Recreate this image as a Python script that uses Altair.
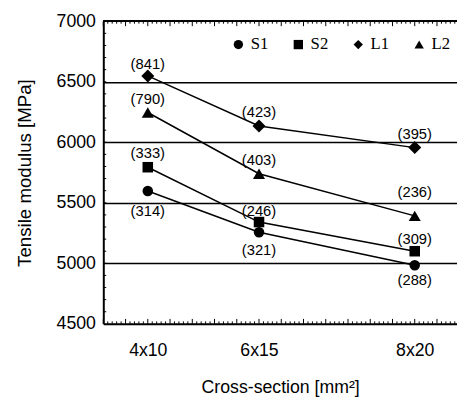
import altair as alt
import pandas as pd

# ---- data ----
sections = ["4x10", "6x15", "8x20"]
series = ["S1", "S2", "L1", "L2"]
shapes = ["circle", "square", "diamond", "triangle-up"]
values = {
    "S1": [5597, 5257, 4984],
    "S2": [5794, 5341, 5100],
    "L1": [6548, 6135, 5956],
    "L2": [6246, 5740, 5392],
}
counts = {
    "S1": ["(314)", "(321)", "(288)"],
    "S2": ["(333)", "(246)", "(309)"],
    "L1": ["(841)", "(423)", "(395)"],
    "L2": ["(790)", "(403)", "(236)"],
}
# label placement (pixels above (-) / below (+) the marker)
label_dy = {
    "S1": [20, 18, 15],
    "S2": [-14, -11, -12],
    "L1": [-12, -14, -14],
    "L2": [-14, -14, -24],
}
y_ticks = [4500, 5000, 5500, 6000, 6500, 7000]
x_major_ticks = list(range(20, 180, 10))
x_minor_ticks = [v for v in range(20, 180, 2) if v % 10]
y_minor_ticks = list(range(4600, 7000, 100))

def area(sec):
    a, b = sec.split("x")
    return int(a) * int(b)

rows = []
for s in series:
    for i, sec in enumerate(sections):
        rows.append({"series": s, "section": sec, "area": area(sec),
                     "value": values[s][i], "label": counts[s][i],
                     "dy": label_dy[s][i]})
df = pd.DataFrame(rows)

W, H = 360, 308
YMIN, YMAX = 4500, 7000
xs = alt.Scale(domain=[20, 179], nice=False, zero=False)
ys = alt.Scale(domain=[YMIN, YMAX], nice=False, zero=False)
SANS = "Liberation Sans"

label_expr = " : ".join(
    f"datum.value == {area(s)} ? '{s}'" for s in sections) + " : ''"

x_axis = alt.Axis(
    values=[area(s) for s in sections], labelExpr=label_expr,
    title="Cross-section [mm²]", ticks=False, tickSize=0, grid=False,
    domainColor="black", domainWidth=2, labelFont=SANS, labelFontSize=18,
    labelColor="black", labelPadding=18, titleFont=SANS, titleFontSize=18,
    titleFontWeight="normal", titleColor="black", titlePadding=20)
y_axis = alt.Axis(
    values=y_ticks, format="d", title="Tensile modulus [MPa]", ticks=False, tickSize=0,
    grid=True, gridColor="black", gridWidth=1.5,
    gridOpacity={"condition": {"test": "datum.value <= 4500 || datum.value >= 7000", "value": 0}, "value": 1},
    domainColor="black", domainWidth=2, labelFont=SANS, labelFontSize=18,
    labelColor="black", labelPadding=8, titleFont=SANS, titleFontSize=19,
    titleFontWeight="normal", titleColor="black", titlePadding=22)

base = alt.Chart(df)

lines = base.mark_line(color="black", strokeWidth=1.5).encode(
    x=alt.X("area:Q", scale=xs, axis=x_axis),
    y=alt.Y("value:Q", scale=ys, axis=y_axis),
    detail="series:N",
)

points = base.mark_point(filled=True, color="black", opacity=1).encode(
    x=alt.X("area:Q", scale=xs, axis=x_axis),
    y=alt.Y("value:Q", scale=ys, axis=y_axis),
    shape=alt.Shape("series:N", scale=alt.Scale(domain=series, range=shapes),
                    legend=alt.Legend(
                        orient="none", legendX=129, legendY=15, direction="horizontal",
                        title=None, labelFont="Liberation Serif", labelFontSize=17,
                        labelColor="black", symbolFillColor="black",
                        symbolStrokeColor="black", symbolStrokeWidth=0,
                        symbolSize=90, labelOffset=4, columnPadding=22, padding=0)),
    size=alt.SizeValue(115, condition=[
        {"test": "datum.series === 'L1'", "value": 175},
        {"test": "datum.series === 'L2'", "value": 150},
    ]),
)

texts = base.transform_calculate(
    ly=f"datum.value - datum.dy * {(YMAX - YMIN) / H}"
).mark_text(font=SANS, fontSize=15, color="black", baseline="middle").encode(
    x=alt.X("area:Q", scale=xs, axis=x_axis),
    y=alt.Y("ly:Q", scale=ys, axis=y_axis),
    text="label:N",
)

# inward tick marks on the frame (axis decorations driven by the shared scales)
def x_ticks(vals, length, top):
    d = pd.DataFrame({"t": vals})
    y0 = 0 if top else H
    y1 = length if top else H - length
    return alt.Chart(d).mark_rule(color="black", strokeWidth=1).encode(
        x=alt.X("t:Q", scale=xs, axis=x_axis),
        y=alt.value(y0), y2=alt.value(y1))

y_tick_layer = alt.Chart(pd.DataFrame({"t": y_minor_ticks})).mark_rule(
    color="black", strokeWidth=1).encode(
    y=alt.Y("t:Q", scale=ys, axis=y_axis),
    x=alt.value(0), x2=alt.value(3))

top_border = base.mark_rule(color="black", strokeWidth=1).encode(
    x=alt.value(0), x2=alt.value(W), y=alt.value(0))

chart = alt.layer(
    lines,
    top_border,
    x_ticks(x_major_ticks, 5, False), x_ticks(x_minor_ticks, 2.5, False),
    x_ticks(x_major_ticks, 5, True), x_ticks(x_minor_ticks, 2.5, True),
    y_tick_layer,
    points, texts,
).properties(
    width=W, height=H,
    autosize=alt.AutoSizeParams(type="none"),
    padding={"left": 97, "top": 10, "right": 0, "bottom": 72},
).configure_view(stroke=None).configure(background="white")

chart.save("out.html", embed_options={"renderer": "svg", "actions": False})
